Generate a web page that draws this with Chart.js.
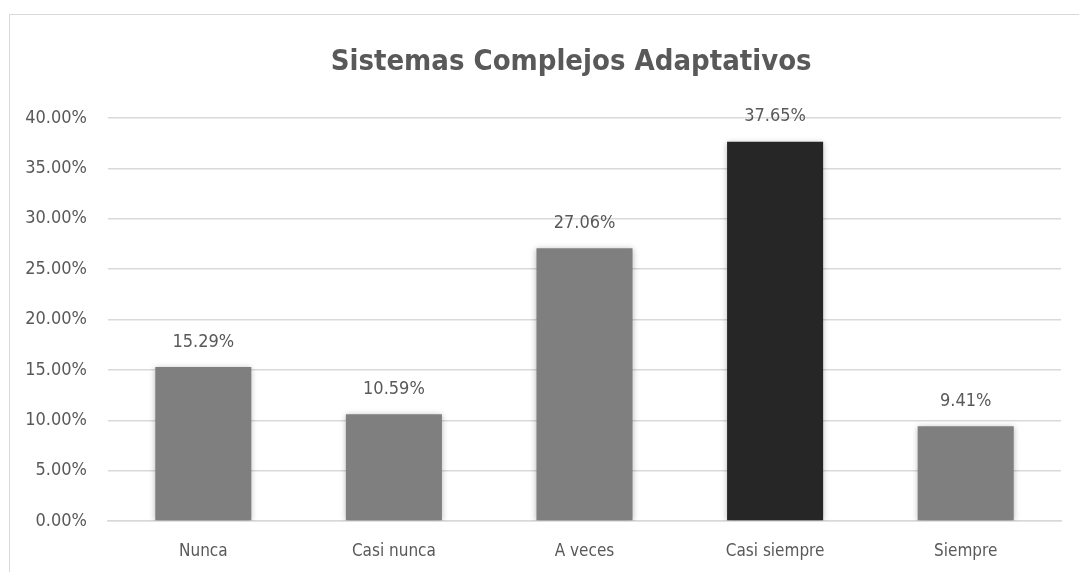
<!DOCTYPE html>
<html>
<head>
<meta charset="utf-8">
<script src="https://cdn.jsdelivr.net/npm/chart.js@4/dist/chart.umd.min.js"></script>
<style>
  html, body { margin: 0; padding: 0; background: #fff; overflow: hidden; }
  #frame { position: absolute; left: 9px; top: 14px; width: 1200px; height: 700px;
           border: 1.5px solid #d9d9d9; box-sizing: border-box; }
  #wrap { position: absolute; left: 0; top: 0; width: 1079px; height: 572px; }
</style>
</head>
<body>
<div id="frame"></div>
<div id="wrap"><canvas id="chart" width="1079" height="572"></canvas></div>
<script>
// Chart data
const categories = ['Nunca', 'Casi nunca', 'A veces', 'Casi siempre', 'Siempre'];
const percentages = [15.29, 10.59, 27.06, 37.65, 9.41];
const barColors = ['#7f7f7f', '#7f7f7f', '#7f7f7f', '#262626', '#7f7f7f'];
const chartTitle = 'Sistemas Complejos Adaptativos';

const FONT = "'Liberation Sans Narrow', 'DejaVu Sans Condensed', 'Arial Narrow', sans-serif";
const TEXT_COLOR = '#595959';

// soft shadow under the bars, like the spreadsheet export
const barShadow = {
    id: 'barShadow',
    beforeDatasetsDraw(chart) {
        const ctx = chart.ctx;
        ctx.save();
        ctx.shadowColor = 'rgba(0,0,0,0.28)';
        ctx.shadowBlur = 6;
        ctx.shadowOffsetY = 1;
    },
    afterDatasetsDraw(chart) {
        chart.ctx.restore();
    }
};

// title sits slightly left of the plot centre, as in the original
const titleText = {
    id: 'titleText',
    afterDraw(chart) {
        const ctx = chart.ctx;
        const area = chart.chartArea;
        ctx.save();
        ctx.font = 'bold 29px ' + FONT;
        ctx.fillStyle = TEXT_COLOR;
        ctx.textAlign = 'center';
        ctx.textBaseline = 'middle';
        ctx.fillText(chartTitle, area.left + area.width * 0.486, area.top - 56);
        ctx.restore();
    }
};

// value labels above each bar
const valueLabels = {
    id: 'valueLabels',
    afterDatasetsDraw(chart) {
        const ctx = chart.ctx;
        const meta = chart.getDatasetMeta(0);
        ctx.save();
        ctx.font = '18px ' + FONT;
        ctx.fillStyle = TEXT_COLOR;
        ctx.textAlign = 'center';
        ctx.textBaseline = 'middle';
        meta.data.forEach((bar, i) => {
            ctx.fillText(percentages[i].toFixed(2) + '%', bar.x, bar.y - 25);
        });
        ctx.restore();
    }
};

new Chart(document.getElementById('chart'), {
    type: 'bar',
    data: {
        labels: categories,
        datasets: [{
            data: percentages,
            backgroundColor: barColors,
            borderWidth: 0,
            barPercentage: 0.72,
            categoryPercentage: 0.7
        }]
    },
    options: {
        responsive: false,
        animation: false,
        layout: { padding: { left: 0, right: 18, top: 118, bottom: 0 } },
        plugins: {
            legend: { display: false },
            tooltip: { enabled: false },
            title: { display: false }
        },
        scales: {
            x: {
                grid: { display: false, drawTicks: false },
                border: { display: true, color: '#d9d9d9', width: 1.5 },
                ticks: { color: TEXT_COLOR, font: { family: FONT, size: 17 }, padding: 20 },
                afterFit(scale) { scale.height = 51; }
            },
            y: {
                min: 0,
                max: 40,
                ticks: {
                    stepSize: 5,
                    color: TEXT_COLOR,
                    font: { family: FONT, size: 18 },
                    padding: 21,
                    callback: v => v.toFixed(2) + '%'
                },
                grid: { color: '#d9d9d9', lineWidth: 1.5, drawTicks: false },
                border: { display: false },
                afterFit(scale) { scale.width = 108; }
            }
        }
    },
    plugins: [barShadow, valueLabels, titleText]
});
</script>
</body>
</html>
